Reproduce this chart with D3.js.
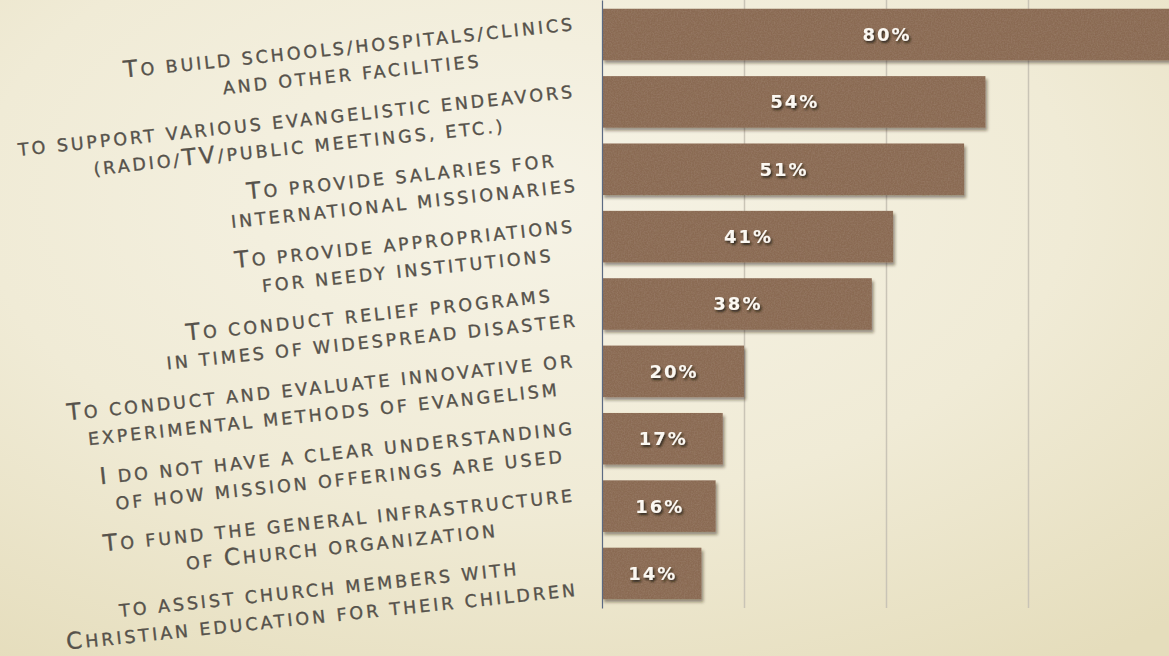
<!DOCTYPE html>
<html>
<head>
<meta charset="utf-8">
<script src="https://cdn.jsdelivr.net/npm/d3@7"></script>
<style>
    html, body { margin: 0; padding: 0; overflow: hidden; }
    svg { display: block; }
</style>
</head>
<body>
<div id="chart"></div>
<script>
const categories = [
    ['To build schools/hospitals/clinics', 'and other facilities'],
    ['to support various evangelistic endeavors', '(radio/TV/public meetings, etc.)'],
    ['To provide salaries for', 'international missionaries'],
    ['To provide appropriations', 'for needy institutions'],
    ['To conduct relief programs', 'in times of widespread disaster'],
    ['To conduct and evaluate innovative or', 'experimental methods of evangelism'],
    ['I do not have a clear understanding', 'of how mission offerings are used'],
    ['To fund the general infrastructure', 'of Church organization'],
    ['to assist church members with', 'Christian education for their children']
]
const values = [80, 54, 51, 41, 38, 20, 17, 16, 14]
const gridTicks = [20, 40, 60, 80]

// split a line into runs of capitals / everything else, for hand-made small caps
const smallCapRuns = (str) => {
    const runs = []
    for (const ch of str) {
        const big = ch !== ch.toLowerCase()
        const last = runs[runs.length - 1]
        if (last && last.big === big) last.text += ch.toUpperCase()
        else runs.push({ big: big, text: ch.toUpperCase() })
    }
    return runs
}

const createGraph = () => {
    const width = 1169
    const height = 656
    const plotBottom = 608

    const xScale = d3.scaleLinear().domain([0, 80]).range([602, 1170])
    const yScale = d3.scaleBand()
        .domain(d3.range(categories.length))
        .range([0, plotBottom])
        .paddingInner(0.235)
        .paddingOuter(0.13)

    const svg = d3.select('#chart')
        .append('svg')
        .attr('width', width)
        .attr('height', height)

    const defs = svg.append('defs')

    const bg = defs.append('radialGradient')
        .attr('id', 'bg')
        .attr('cx', '45%').attr('cy', '30%').attr('r', '85%')
    bg.append('stop').attr('offset', '0%').attr('stop-color', '#f6f3e6')
    bg.append('stop').attr('offset', '55%').attr('stop-color', '#f0ebd6')
    bg.append('stop').attr('offset', '100%').attr('stop-color', '#e5ddbc')

    // leather-ish bar: grain + soft shadow
    const leather = defs.append('filter')
        .attr('id', 'leather')
        .attr('x', '-5%').attr('y', '-20%').attr('width', '110%').attr('height', '150%')
    leather.append('feGaussianBlur').attr('in', 'SourceAlpha').attr('stdDeviation', 1.6).attr('result', 'blur')
    leather.append('feOffset').attr('in', 'blur').attr('dx', 1.5).attr('dy', 2.5).attr('result', 'off')
    leather.append('feFlood').attr('flood-color', '#2b2014').attr('flood-opacity', 0.45).attr('result', 'fl')
    leather.append('feComposite').attr('in', 'fl').attr('in2', 'off').attr('operator', 'in').attr('result', 'shadow')
    leather.append('feTurbulence').attr('type', 'fractalNoise').attr('baseFrequency', 0.7).attr('numOctaves', 2).attr('seed', 4).attr('result', 'noise')
    leather.append('feColorMatrix').attr('in', 'noise').attr('type', 'matrix')
        .attr('values', '0 0 0 0 0.62  0 0 0 0 0.49  0 0 0 0 0.39  0 0 0 0.22 -0.07').attr('result', 'grain')
    leather.append('feComposite').attr('in', 'grain').attr('in2', 'SourceGraphic').attr('operator', 'in').attr('result', 'tex')
    const merge = leather.append('feMerge')
    merge.append('feMergeNode').attr('in', 'shadow')
    merge.append('feMergeNode').attr('in', 'SourceGraphic')
    merge.append('feMergeNode').attr('in', 'tex')

    const textShadow = defs.append('filter')
        .attr('id', 'textShadow')
        .attr('x', '-20%').attr('y', '-30%').attr('width', '150%').attr('height', '170%')
    textShadow.append('feDropShadow')
        .attr('dx', 1.5).attr('dy', 2).attr('stdDeviation', 1)
        .attr('flood-color', '#1e140c').attr('flood-opacity', 0.8)

    svg.append('rect')
        .attr('width', width)
        .attr('height', height)
        .attr('fill', 'url(#bg)')

    // vertical gridlines
    const grid = svg.append('g')
        .attr('transform', `translate(0, ${plotBottom})`)
        .call(d3.axisBottom(xScale).tickValues(gridTicks).tickSize(-plotBottom).tickFormat(''))
    grid.select('.domain').remove()
    grid.selectAll('.tick line')
        .attr('stroke', '#c9c4b6')
        .attr('stroke-width', 1.5)

    svg.append('g')
        .selectAll('rect')
        .data(values)
        .enter()
        .append('rect')
        .attr('x', xScale(0))
        .attr('y', (d, i) => yScale(i))
        .attr('width', (d) => xScale(d) - xScale(0))
        .attr('height', yScale.bandwidth())
        .attr('fill', '#8a6a53')
        .attr('filter', 'url(#leather)')

    svg.append('g')
        .selectAll('text')
        .data(values)
        .enter()
        .append('text')
        .attr('x', (d) => (xScale(0) + xScale(d)) / 2 + 1)
        .attr('y', (d, i) => yScale(i) + yScale.bandwidth() / 2)
        .attr('dy', '0.36em')
        .attr('text-anchor', 'middle')
        .style('font-family', '"DejaVu Sans", sans-serif')
        .style('font-weight', 'bold')
        .style('font-size', '18px')
        .style('letter-spacing', '2px')
        .attr('fill', '#fbf8f2')
        .attr('filter', 'url(#textShadow)')
        .text((d) => `${d}%`)

    // y axis line
    const yAxis = svg.append('g')
        .attr('transform', `translate(${xScale(0)}, 0)`)
        .call(d3.axisLeft(yScale).tickSize(0).tickSizeOuter(0).tickFormat(''))
    yAxis.select('.domain')
        .attr('stroke', '#5b6a82')
        .attr('stroke-width', 1.2)

    // category labels, tilted, lines centred within a right-aligned block
    const labels = svg.append('g')
        .selectAll('g')
        .data(categories)
        .enter()
        .append('g')
        .attr('transform', (d, i) => `translate(576, ${yScale(i) + yScale.bandwidth() / 2}) rotate(-6)`)

    labels.each(function (lines) {
        const g = d3.select(this)
        const texts = g.selectAll('text')
            .data(lines)
            .enter()
            .append('text')
            .attr('y', (d, j) => j === 0 ? -4.5 : 22.5)
            .attr('text-anchor', 'middle')
            .style('font-family', '"DejaVu Sans", sans-serif')
            .style('letter-spacing', '2.95px')
            .attr('fill', '#56524b')
            .attr('stroke', '#56524b')
            .attr('stroke-width', 0.35)
        texts.selectAll('tspan')
            .data((d) => smallCapRuns(d))
            .enter()
            .append('tspan')
            .style('font-size', (r) => r.big ? '23px' : '17.5px')
            .text((r) => r.text)
        const maxW = d3.max(texts.nodes(), (n) => n.getComputedTextLength())
        texts.attr('x', -maxW / 2)
    })
}

createGraph()
</script>
</body>
</html>
